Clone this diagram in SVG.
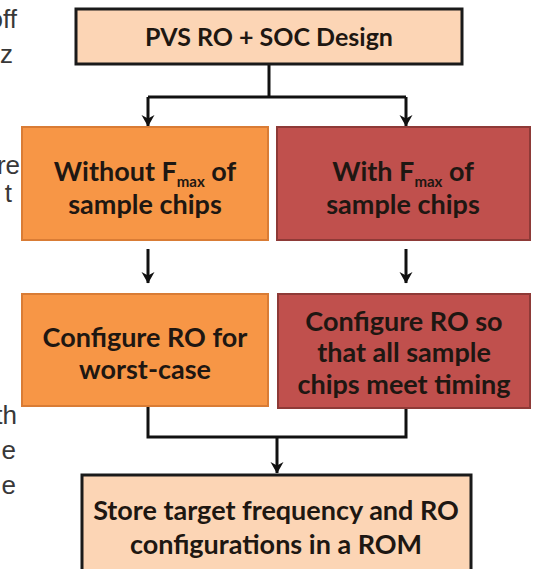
<svg xmlns="http://www.w3.org/2000/svg" width="543" height="569" viewBox="0 0 543 569">
  <defs>
    <style>
      .page { font-family: "Liberation Sans", Arial, sans-serif; font-size: 26px; fill: #383838; text-anchor: end; }
      .label { font-family: Lato, "Open Sans", sans-serif; font-weight: bold; font-size: 27px; fill: #1e1712; text-anchor: middle; }
      .title { font-size: 25px; }
      .sub { font-size: 15px; }
      .peach { fill: #fcd5b5; stroke: #1a1a1a; stroke-width: 3; }
      .orange { fill: #f79646; stroke: #d97c35; stroke-width: 2; }
      .red { fill: #c0504d; stroke: #8e3a37; stroke-width: 2; }
      .wire { fill: none; stroke: #111; stroke-width: 3; }
    </style>
    <!-- arrowhead drawn along +x so orient="auto" turns it with the line -->
    <marker id="arrow" viewBox="0 0 14 14" refX="13" refY="7" markerWidth="14" markerHeight="14" markerUnits="userSpaceOnUse" orient="auto">
      <path d="M2,0.5 L13.5,7 L2,13.5 L5.5,7 Z" fill="#111"/>
    </marker>
  </defs>

  <rect width="543" height="569" fill="#ffffff"/>

  <!-- text cut off at the left page edge -->
  <g id="page-edge-text">
    <text class="page" x="17" y="28">off</text>
    <text class="page" x="13" y="63">z</text>
    <text class="page" x="20" y="174">re</text>
    <text class="page" x="12" y="202">t</text>
    <text class="page" x="17" y="424">th</text>
    <text class="page" x="16" y="459">e</text>
    <text class="page" x="16" y="494">e</text>
  </g>

  <!-- connectors -->
  <g id="connectors">
    <path class="wire" d="M269,64 V97"/>
    <path class="wire" d="M148,97 H406"/>
    <path class="wire" d="M148,97 V126" marker-end="url(#arrow)"/>
    <path class="wire" d="M406,97 V126" marker-end="url(#arrow)"/>
    <path class="wire" d="M148,249 V283" marker-end="url(#arrow)"/>
    <path class="wire" d="M406,249 V283" marker-end="url(#arrow)"/>
    <path class="wire" d="M148,406 V437 H406 V408"/>
    <path class="wire" d="M277,437 V473" marker-end="url(#arrow)"/>
  </g>

  <g id="design">
    <rect class="peach" x="76" y="9" width="386" height="55"/>
    <text class="label title" x="269" y="46">PVS RO + SOC Design</text>
  </g>

  <g id="without-fmax">
    <rect class="orange" x="22" y="127" width="246" height="113"/>
    <text class="label" x="145" y="181">Without F<tspan class="sub" dy="6">max</tspan><tspan dy="-6"> of</tspan></text>
    <text class="label" x="145" y="214">sample chips</text>
  </g>

  <g id="with-fmax">
    <rect class="red" x="277" y="127" width="253" height="113"/>
    <text class="label" x="403" y="181">With F<tspan class="sub" dy="6">max</tspan><tspan dy="-6"> of</tspan></text>
    <text class="label" x="403" y="214">sample chips</text>
  </g>

  <g id="worst-case">
    <rect class="orange" x="22" y="294" width="246" height="112"/>
    <text class="label" x="145" y="347">Configure RO for</text>
    <text class="label" x="145" y="379">worst-case</text>
  </g>

  <g id="meet-timing">
    <rect class="red" x="278" y="294" width="252" height="114"/>
    <text class="label" x="404" y="331">Configure RO so</text>
    <text class="label" x="404" y="362">that all sample</text>
    <text class="label" x="404" y="394">chips meet timing</text>
  </g>

  <g id="store-rom">
    <rect class="peach" x="82" y="475" width="389" height="104"/>
    <text class="label" x="276" y="520">Store target frequency and RO</text>
    <text class="label" x="276" y="554">configurations in a ROM</text>
  </g>
</svg>
